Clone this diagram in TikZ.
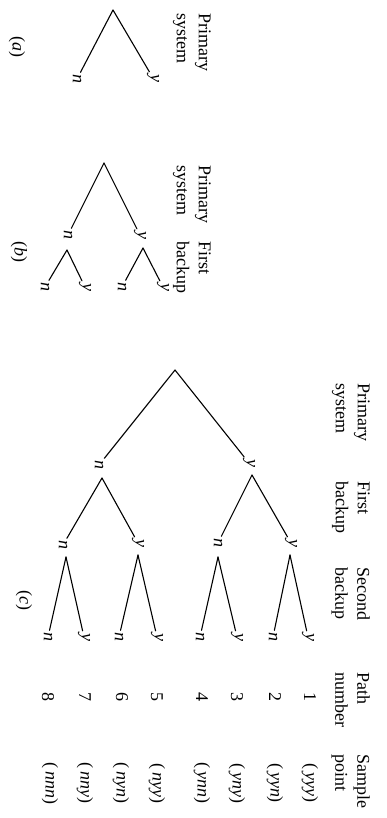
\documentclass[tikz,border=0pt]{standalone}
\usepackage{fontspec}
\setmainfont{Liberation Serif}
\begin{document}
\begin{tikzpicture}[x=1pt,y=-1pt,
  every node/.style={font=\fontsize{18}{22}\selectfont},
  br/.style={line width=1.1pt, line cap=round},
  lbl/.style={rotate=-90, inner sep=2pt, font=\fontsize{18}{22}\selectfont\itshape},
  hdr/.style={rotate=-90, anchor=north west, align=left, inner sep=0pt},
  num/.style={rotate=-90, inner sep=1pt},
]
\path[use as bounding box, fill=white] (0,0) rectangle (387,818);

% ---------- (a) ----------
\node[hdr] (ha) at (211,13) {Primary\\system};
\node[num] (capa) at (17,47) {(\textit{a})};
\coordinate (a0) at (113,10);
\node[lbl] (ay) at (153,78) {y};
\node[lbl] (an) at (77,79) {n};
\draw[br] (a0) -- (ay);
\draw[br] (a0) -- (an);

% ---------- (b) ----------
\node[hdr] (hb1) at (211,165) {Primary\\system};
\node[hdr] (hb2) at (211,241) {First\\backup};
\node[num] (capb) at (19,252) {(\textit{b})};
\coordinate (b0) at (104,163);
\node[lbl] (by) at (140,235) {y};
\node[lbl] (bn) at (68,235) {n};
\draw[br] (b0) -- (by);
\draw[br] (b0) -- (bn);
\coordinate (byF) at (143,248);
\node[lbl] (byy) at (163,287) {y};
\node[lbl] (byn) at (122,287) {n};
\draw[br] (byF) -- (byy);
\draw[br] (byF) -- (byn);
\coordinate (bnF) at (67,250);
\node[lbl] (bny) at (85,287) {y};
\node[lbl] (bnn) at (45,287) {n};
\draw[br] (bnF) -- (bny);
\draw[br] (bnF) -- (bnn);

% ---------- (c) ----------
\node[hdr] (hc1) at (370,383) {Primary\\system};
\node[hdr] (hc2) at (370,481) {First\\backup};
\node[hdr] (hc3) at (370,567) {Second\\backup};
\node[hdr] (hc4) at (370,672) {Path\\number};
\node[hdr] (hc5) at (370,754) {Sample\\point};
\node[num] (capc) at (24,600) {(\textit{c})};

\coordinate (c0) at (175,370);
\node[lbl] (cy) at (249,463) {y};
\node[lbl] (cn) at (99,465) {n};
\draw[br] (c0) -- (cy);
\draw[br] (c0) -- (cn);

\coordinate (cyF) at (252,475);
\node[lbl] (cyy) at (291,543) {y};
\node[lbl] (cyn) at (218,543) {n};
\draw[br] (cyF) -- (cyy);
\draw[br] (cyF) -- (cyn);

\coordinate (cnF) at (102,478);
\node[lbl] (cny) at (138,543) {y};
\node[lbl] (cnn) at (63,545) {n};
\draw[br] (cnF) -- (cny);
\draw[br] (cnF) -- (cnn);

\coordinate (cyyF) at (290,555);
\node[lbl] (l1) at (308,637) {y};
\node[lbl] (l2) at (273,637) {n};
\draw[br] (cyyF) -- (l1);
\draw[br] (cyyF) -- (l2);

\coordinate (cynF) at (218,557);
\node[lbl] (l3) at (237,637) {y};
\node[lbl] (l4) at (200,637) {n};
\draw[br] (cynF) -- (l3);
\draw[br] (cynF) -- (l4);

\coordinate (cnyF) at (138,555);
\node[lbl] (l5) at (157,637) {y};
\node[lbl] (l6) at (119,637) {n};
\draw[br] (cnyF) -- (l5);
\draw[br] (cnyF) -- (l6);

\coordinate (cnnF) at (66,557);
\node[lbl] (l7) at (84,637) {y};
\node[lbl] (l8) at (48,637) {n};
\draw[br] (cnnF) -- (l7);
\draw[br] (cnnF) -- (l8);

% path numbers
\node[num] (p1) at (310,697) {1};
\node[num] (p2) at (275,697) {2};
\node[num] (p3) at (237,697) {3};
\node[num] (p4) at (202,697) {4};
\node[num] (p5) at (157,697) {5};
\node[num] (p6) at (122,697) {6};
\node[num] (p7) at (85,697) {7};
\node[num] (p8) at (48,697) {8};

% sample points
\node[num] (s1) at (310,783) {(\,\textit{yyy})};
\node[num] (s2) at (275,783) {(\,\textit{yyn})};
\node[num] (s3) at (237,783) {(\,\textit{yny})};
\node[num] (s4) at (202,783) {(\,\textit{ynn})};
\node[num] (s5) at (157,783) {(\,\textit{nyy})};
\node[num] (s6) at (121,783) {(\,\textit{nyn})};
\node[num] (s7) at (85,783) {(\,\textit{nny})};
\node[num] (s8) at (50,783) {(\,\textit{nnn})};
\end{tikzpicture}
\end{document}
